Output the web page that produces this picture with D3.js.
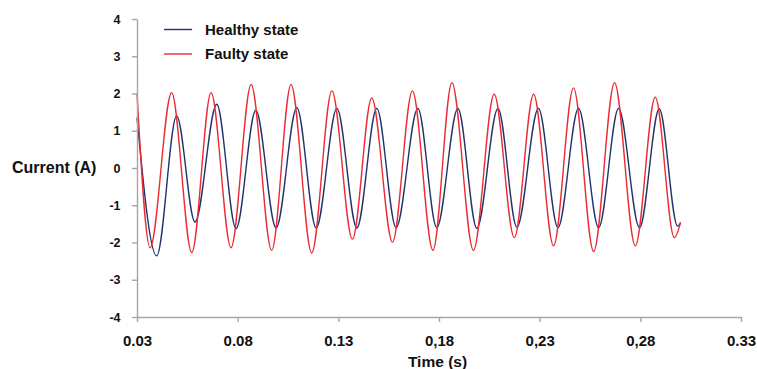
<!DOCTYPE html>
<html>
<head>
<meta charset="utf-8">
<script src="https://cdn.jsdelivr.net/npm/d3@7.9.0/dist/d3.min.js"></script>
<style>
  body { margin: 0; background: #fff; }
  svg { display: block; font-family: "Liberation Sans", Arial, sans-serif; font-weight: bold; }
</style>
</head>
<body>
<svg id="chart" width="757" height="369"></svg>
<script>
// peaks and troughs (time in s, current in A)
const healthyTime = [0.0300, 0.0398, 0.0497, 0.0588, 0.0696, 0.0792, 0.0890, 0.0991, 0.1094, 0.1190,
  0.1293, 0.1392, 0.1491, 0.1587, 0.1695, 0.1789, 0.1894, 0.1988, 0.2093, 0.2187,
  0.2294, 0.2391, 0.2493, 0.2593, 0.2692, 0.2796, 0.2894, 0.2985, 0.3000];
const healthyCurrent = [1.35, -2.36, 1.40, -1.45, 1.71, -1.63, 1.55, -1.61, 1.62, -1.61,
  1.60, -1.61, 1.60, -1.60, 1.60, -1.60, 1.60, -1.62, 1.60, -1.59,
  1.60, -1.60, 1.60, -1.60, 1.60, -1.60, 1.59, -1.56, -1.47];

const faultyTime = [0.0300, 0.0365, 0.0472, 0.0572, 0.0668, 0.0767, 0.0867, 0.0969, 0.1065, 0.1168,
  0.1268, 0.1370, 0.1466, 0.1569, 0.1668, 0.1770, 0.1864, 0.1971, 0.2074, 0.2174,
  0.2270, 0.2369, 0.2468, 0.2568, 0.2672, 0.2775, 0.2874, 0.2969, 0.3000];
const faultyCurrent = [2.00, -2.14, 2.02, -2.27, 2.02, -2.14, 2.24, -2.21, 2.24, -2.28,
  2.07, -1.91, 1.88, -1.99, 2.07, -2.21, 2.29, -2.21, 1.98, -1.87,
  1.98, -2.09, 2.15, -2.24, 2.29, -2.09, 1.90, -1.87, -1.46];

const xTicks = [0.03, 0.08, 0.13, 0.18, 0.23, 0.28, 0.33];
const xTickLabels = ['0.03', '0.08', '0.13', '0,18', '0,23', '0,28', '0.33'];
const yTicks = [-4, -3, -2, -1, 0, 1, 2, 3, 4];
const yTickLabels = ['-4', '-3', '-2', '-1', '0', '1', '2', '3', '4'];

const series = [
  { name: 'Healthy state', color: '#22336e', t: healthyTime, v: healthyCurrent },
  { name: 'Faulty state', color: '#ec2a33', t: faultyTime, v: faultyCurrent }
];

const svg = d3.select('#chart');
const margin = { top: 19, right: 16, bottom: 52, left: 137 };
const width = 757 - margin.left - margin.right;
const height = 369 - margin.top - margin.bottom;

const x = d3.scaleLinear().domain([0.03, 0.33]).range([0, width]);
const y = d3.scaleLinear().domain([-4, 4]).range([height, 0]);

const g = svg.append('g').attr('transform', `translate(${margin.left},${margin.top})`);

let line = d3.line()
  .x((d) => x(d[0]))
  .y((d) => y(d[1]))
  .curve(d3.curveMonotoneX);

series.forEach((s) => {
  g.append('path')
    .datum(s.t.map((t, i) => [t, s.v[i]]))
    .attr('fill', 'none')
    .attr('stroke', s.color)
    .attr('stroke-width', 1.4)
    .attr('d', line);
});

// axes
const yAxis = g.append('g')
  .call(d3.axisLeft(y).tickValues(yTicks).tickSize(5).tickSizeOuter(0).tickPadding(11.5)
    .tickFormat((d, i) => yTickLabels[i]));
const xAxis = g.append('g')
  .attr('transform', `translate(0,${height})`)
  .call(d3.axisBottom(x).tickValues(xTicks).tickSize(5).tickSizeOuter(0).tickPadding(13.3)
    .tickFormat((d, i) => xTickLabels[i]));

[xAxis, yAxis].forEach((a) => {
  a.select('.domain').attr('stroke', '#a6a6a6').attr('stroke-width', 1.4);
  a.selectAll('.tick line').attr('stroke', '#a6a6a6').attr('stroke-width', 1.4);
  a.selectAll('.tick text').attr('fill', '#111').attr('font-weight', 'bold');
});
yAxis.selectAll('.tick text').attr('font-size', 12.5);
xAxis.selectAll('.tick text').attr('font-size', 15);

// axis titles
svg.append('text')
  .attr('x', 12).attr('y', 167.5).attr('dy', '0.35em')
  .attr('font-size', 16).attr('fill', '#111')
  .text('Current (A)');
svg.append('text')
  .attr('x', 437.5).attr('y', 367)
  .attr('text-anchor', 'middle')
  .attr('font-size', 15.5).attr('fill', '#111')
  .text('Time (s)');

// legend
const legend = svg.append('g');
series.forEach((s, i) => {
  const ly = 29.5 + i * 24.5;
  legend.append('line')
    .attr('x1', 164).attr('x2', 192)
    .attr('y1', ly).attr('y2', ly)
    .attr('stroke', s.color).attr('stroke-width', 1.4);
  legend.append('text')
    .attr('x', 205).attr('y', ly).attr('dy', '0.36em')
    .attr('font-size', 15).attr('fill', '#111')
    .text(s.name);
});
</script>
</body>
</html>
